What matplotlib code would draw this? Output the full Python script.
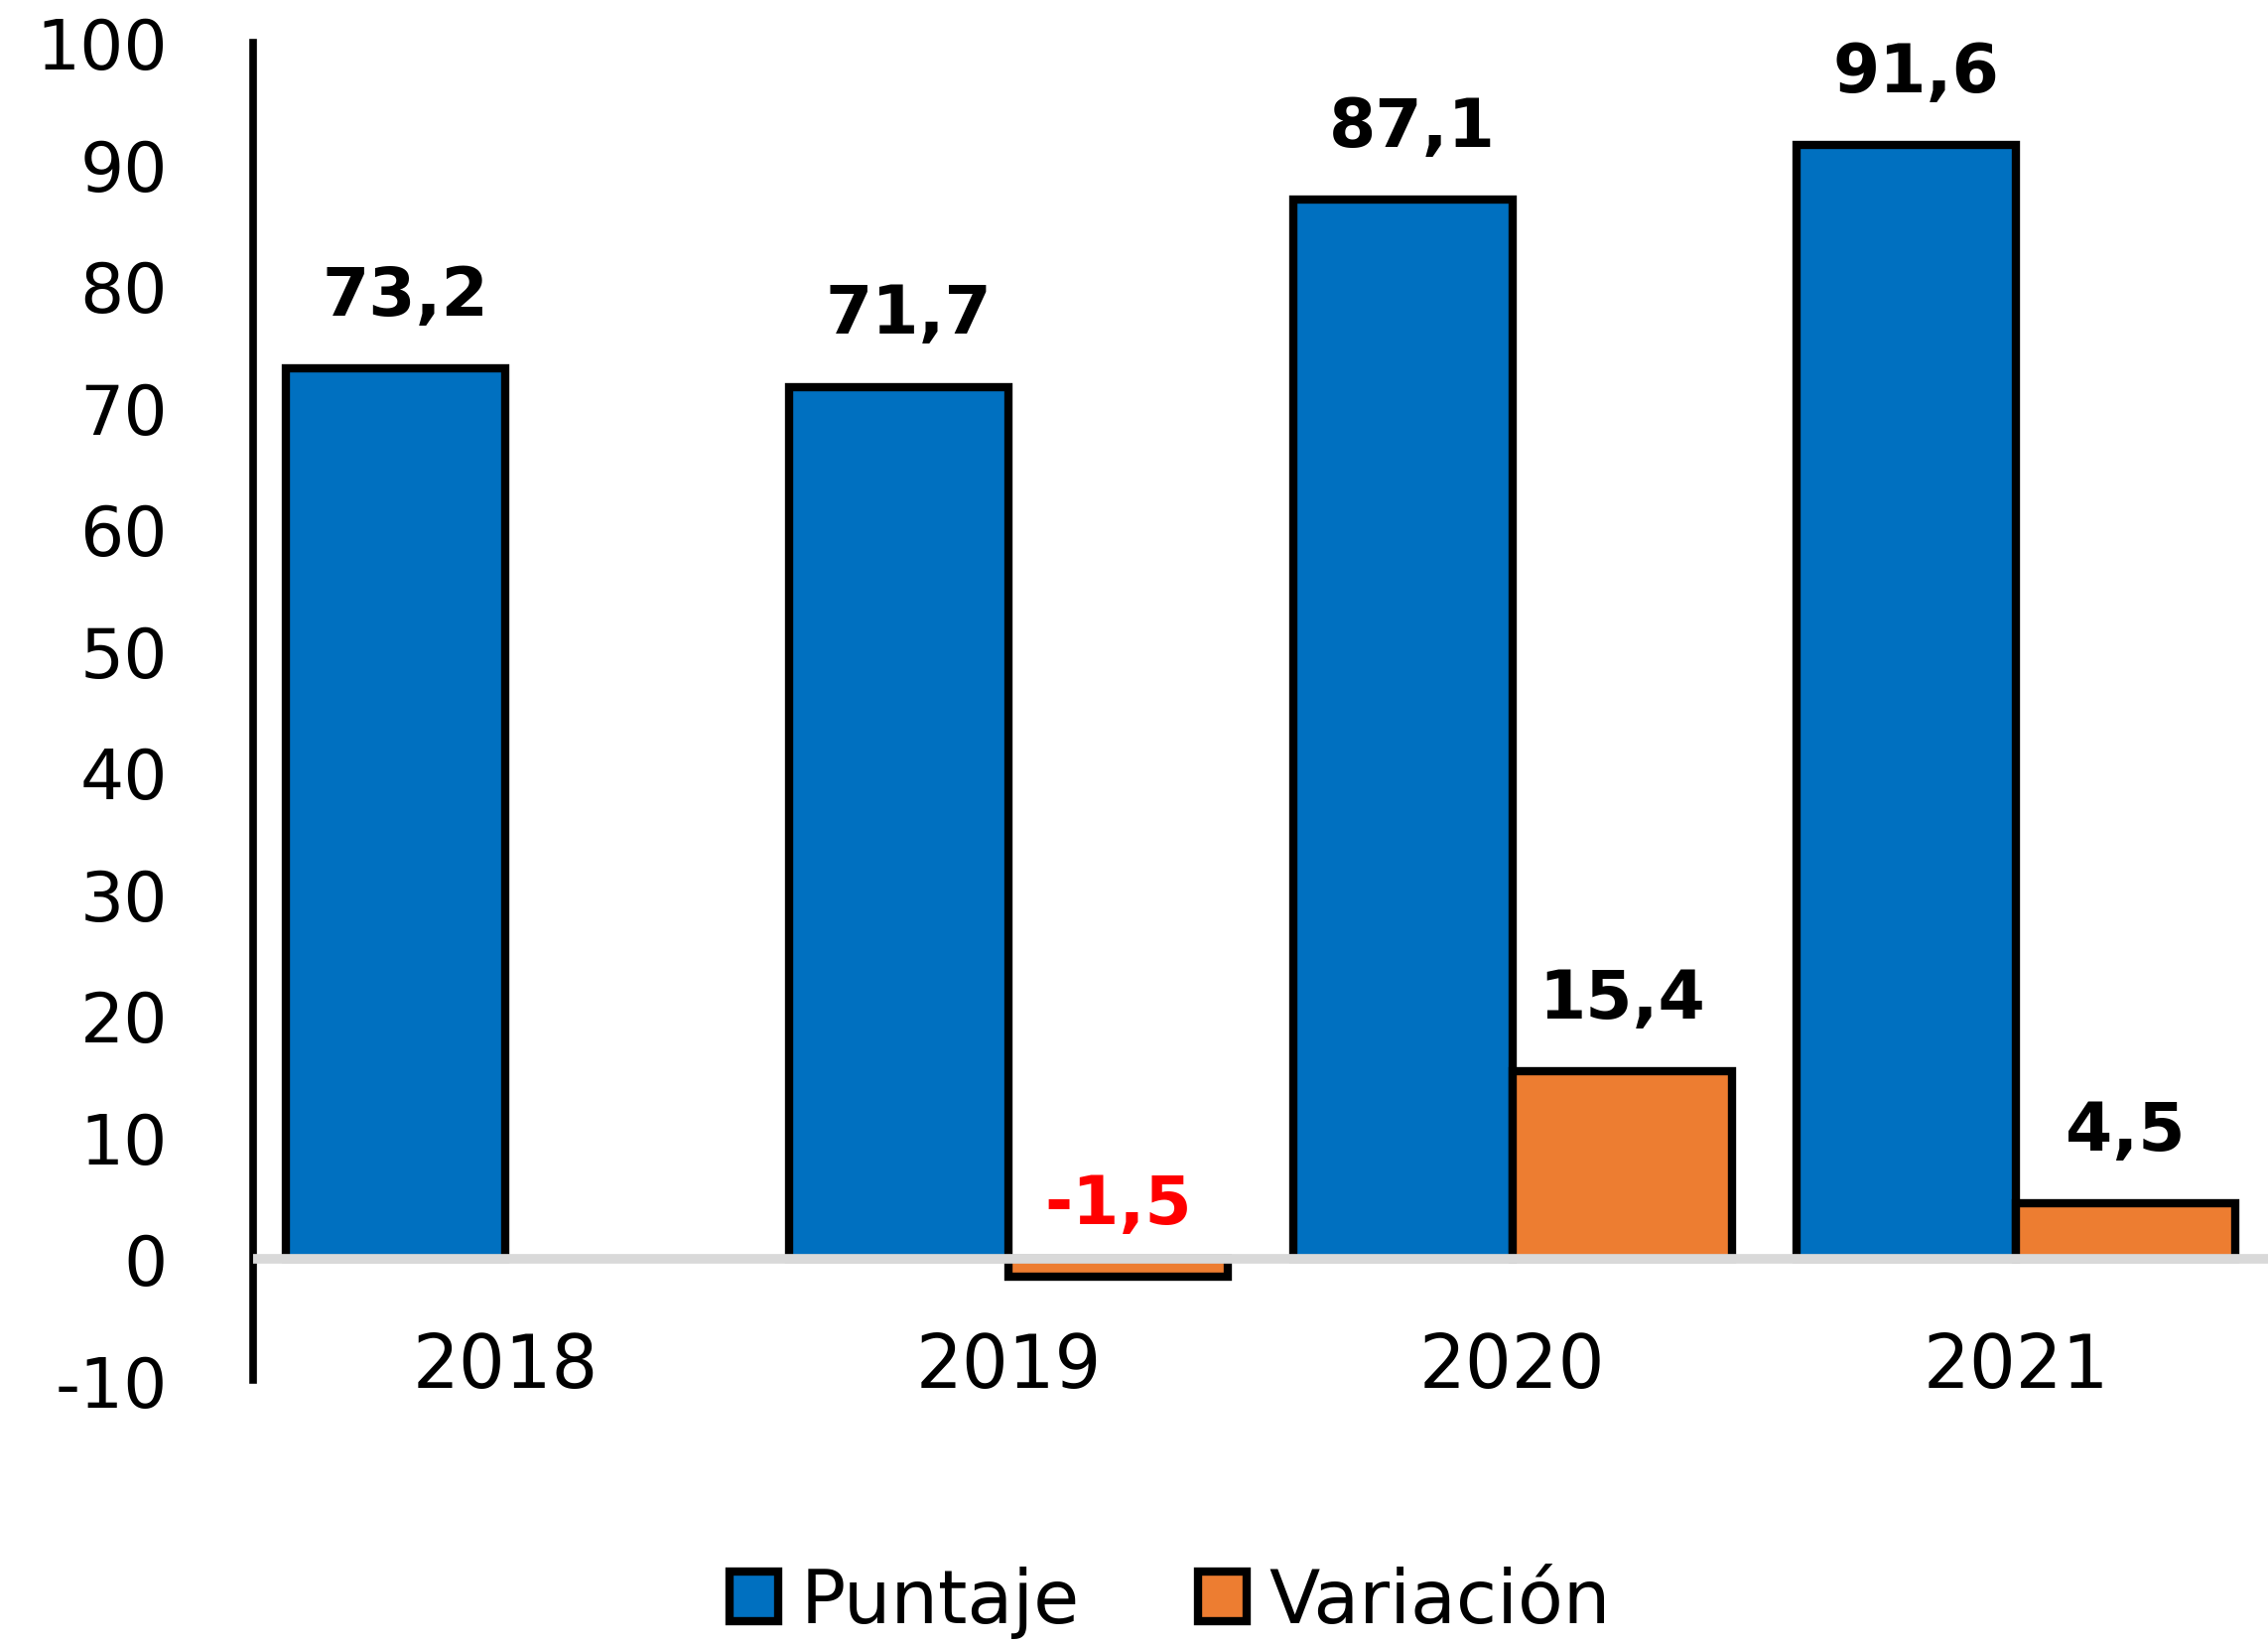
import matplotlib
matplotlib.use("Agg")
import matplotlib.pyplot as plt
import matplotlib.transforms as mtransforms
import numpy as np

years = ["2018", "2019", "2020", "2021"]
puntaje = [73.2, 71.7, 87.1, 91.6]
variacion = [None, -1.5, 15.4, 4.5]
puntaje_labels = ["73,2", "71,7", "87,1", "91,6"]
variacion_labels = [None, "-1,5", "15,4", "4,5"]
yticks = [-10, 0, 10, 20, 30, 40, 50, 60, 70, 80, 90, 100]

BLUE = "#0070C0"
ORANGE = "#ED7D31"

plt.rcParams['font.family'] = ['DejaVu Sans']

fig = plt.figure(figsize=(22.85, 16.58), dpi=100)
ax = fig.add_axes([0.1116, 0.161, 0.8884, 0.8125])

x = np.arange(len(years))
w = 0.435

ax.bar(x - w / 2, puntaje, width=w, color=BLUE, edgecolor="black",
       linewidth=6, label="Puntaje", zorder=2)
vx = [xi + w / 2 for xi, v in zip(x, variacion) if v is not None]
vv = [v for v in variacion if v is not None]
ax.bar(vx, vv, width=w, color=ORANGE, edgecolor="black",
       linewidth=6, label="Variación", zorder=2)

ax.axhline(0, color="#D9D9D9", linewidth=7, zorder=3)

up_b = mtransforms.offset_copy(ax.transData, fig=fig, x=7, y=39, units="points")
up_o = mtransforms.offset_copy(ax.transData, fig=fig, x=0, y=39, units="points")
for xi, v, lab in zip(x, puntaje, puntaje_labels):
    ax.text(xi - w / 2, v, lab, transform=up_b, ha="center", va="baseline",
            fontsize=49, fontweight="bold", color="black")
for xi, v, lab in zip(x, variacion, variacion_labels):
    if v is None:
        continue
    col = "#FF0000" if v < 0 else "black"
    ax.text(xi + w / 2, v, lab, transform=up_o, ha="center", va="baseline",
            fontsize=49, fontweight="bold", color=col)

down = mtransforms.offset_copy(ax.transData, fig=fig, x=0, y=-93, units="points")
for xi, yl in zip(x, years):
    ax.text(xi, 0, yl, transform=down, ha="center", va="baseline",
            fontsize=53, color="black")

ax.set_xlim(-0.5, 3.5)
ax.set_ylim(-10, 100)
ax.set_xticks([])
ax.set_yticks(yticks)
ax.set_yticklabels([str(t) for t in yticks], fontsize=50)
ax.tick_params(axis="y", length=0, pad=62)

for s in ["top", "right", "bottom"]:
    ax.spines[s].set_visible(False)
ax.spines["left"].set_linewidth(5.5)
ax.spines["left"].set_color("black")

fig.legend(loc="center", bbox_to_anchor=(0.516, 0.026), ncol=2, frameon=False,
           fontsize=54, handlelength=0.65, handleheight=0.65, handletextpad=0.3,
           columnspacing=1.6, borderpad=0.1)

fig.savefig("out.png", dpi=100)
